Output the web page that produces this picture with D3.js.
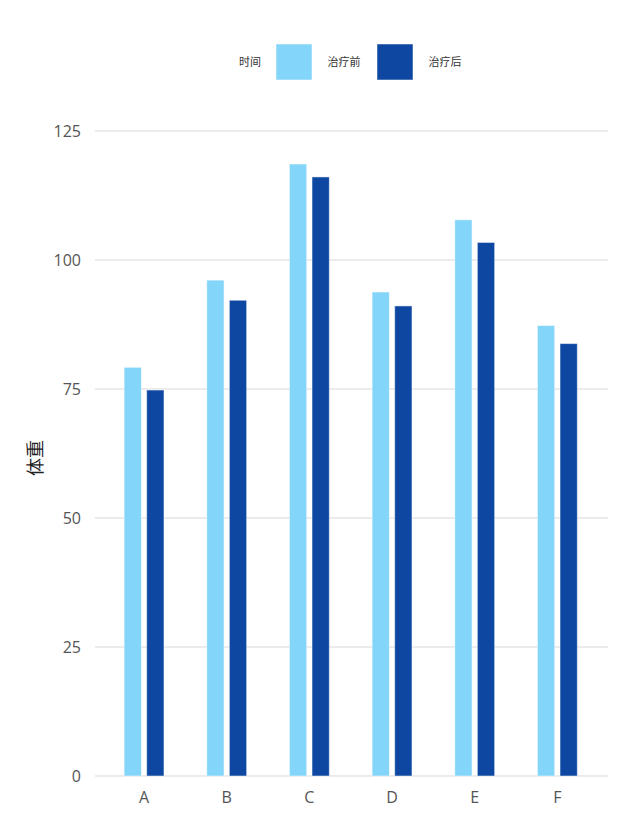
<!DOCTYPE html>
<html><head><meta charset="utf-8">
<script src="https://cdn.jsdelivr.net/npm/d3@7"></script>
<style>
html,body{margin:0;padding:0;background:#fff;}
text{font-family:"Open Sans","Noto Sans","Noto Sans CJK SC",sans-serif;}
</style></head>
<body><svg id="chart" width="635" height="834"></svg>
<script>
const categories = ["A","B","C","D","E","F"];
const seriesNames = ["治疗前","治疗后"];
const before = [79.2, 96.1, 118.6, 93.8, 107.8, 87.3];
const after = [74.8, 92.2, 116.1, 91.1, 103.4, 83.8];
const yTicks = [0,25,50,75,100,125];
const colors = ["#84d5fa","#0d47a1"];
const legendTitle = "时间";
const yTitle = "体重";

const svg = d3.select("#chart");
const x = d3.scaleBand().domain(categories).range([102.7, 598.7]).paddingInner(0).paddingOuter(0);
const y = d3.scaleLinear().domain([0,125]).range([776,131]);
const barW = 17.3, gap = 5.3;

// grid
svg.append("g").selectAll("line").data(yTicks).join("line")
  .attr("x1",95).attr("x2",608)
  .attr("y1",d=>y(d)).attr("y2",d=>y(d))
  .attr("stroke","#ebebeb").attr("stroke-width",2);

// y labels
svg.append("g").selectAll("text").data(yTicks).join("text")
  .attr("x",81).attr("y",d=>y(d)).attr("dy","0.35em")
  .attr("text-anchor","end").attr("font-size",16).attr("fill","#555")
  .text(d=>d);

// x labels
svg.append("g").selectAll("text").data(categories).join("text")
  .attr("x",d=>x(d)+x.bandwidth()/2).attr("y",797).attr("dy","0.35em")
  .attr("text-anchor","middle").attr("font-size",16).attr("fill","#555")
  .text(d=>d);

// bars
const data = [before, after];
data.forEach((vals, si) => {
  svg.append("g").selectAll("rect").data(categories).join("rect")
    .attr("x",(c)=>{const cx = x(c)+x.bandwidth()/2; return si===0 ? cx-gap/2-barW : cx+gap/2;})
    .attr("y",(c,i)=>y(vals[i]))
    .attr("width",barW)
    .attr("height",(c,i)=>y(0)-y(vals[i]))
    .attr("fill",colors[si])
    .attr("stroke","rgba(255,255,255,0.5)").attr("stroke-width",1);
});

// y title
svg.append("text")
  .attr("transform","translate(36,458) rotate(-90)")
  .attr("text-anchor","middle").attr("dy","0.35em")
  .attr("font-size",18).attr("fill","#222")
  .attr("font-family","'Noto Sans CJK SC',sans-serif")
  .text(yTitle);

// legend
const lg = svg.append("g");
lg.append("text").attr("x",250).attr("y",62).attr("dy","0.35em").attr("text-anchor","middle")
  .attr("font-size",11).attr("fill","#333").attr("font-family","'Noto Sans CJK SC',sans-serif").text(legendTitle);
const swX = [276, 377], txX = [344, 445];
seriesNames.forEach((n,i)=>{
  lg.append("rect").attr("x",swX[i]).attr("y",44).attr("width",36).attr("height",36)
    .attr("fill",colors[i]).attr("stroke","rgba(255,255,255,0.5)").attr("stroke-width",1);
  lg.append("text").attr("x",txX[i]).attr("y",62).attr("dy","0.35em").attr("text-anchor","middle")
    .attr("font-size",11).attr("fill","#333").attr("font-family","'Noto Sans CJK SC',sans-serif").text(n);
});
</script></body></html>
